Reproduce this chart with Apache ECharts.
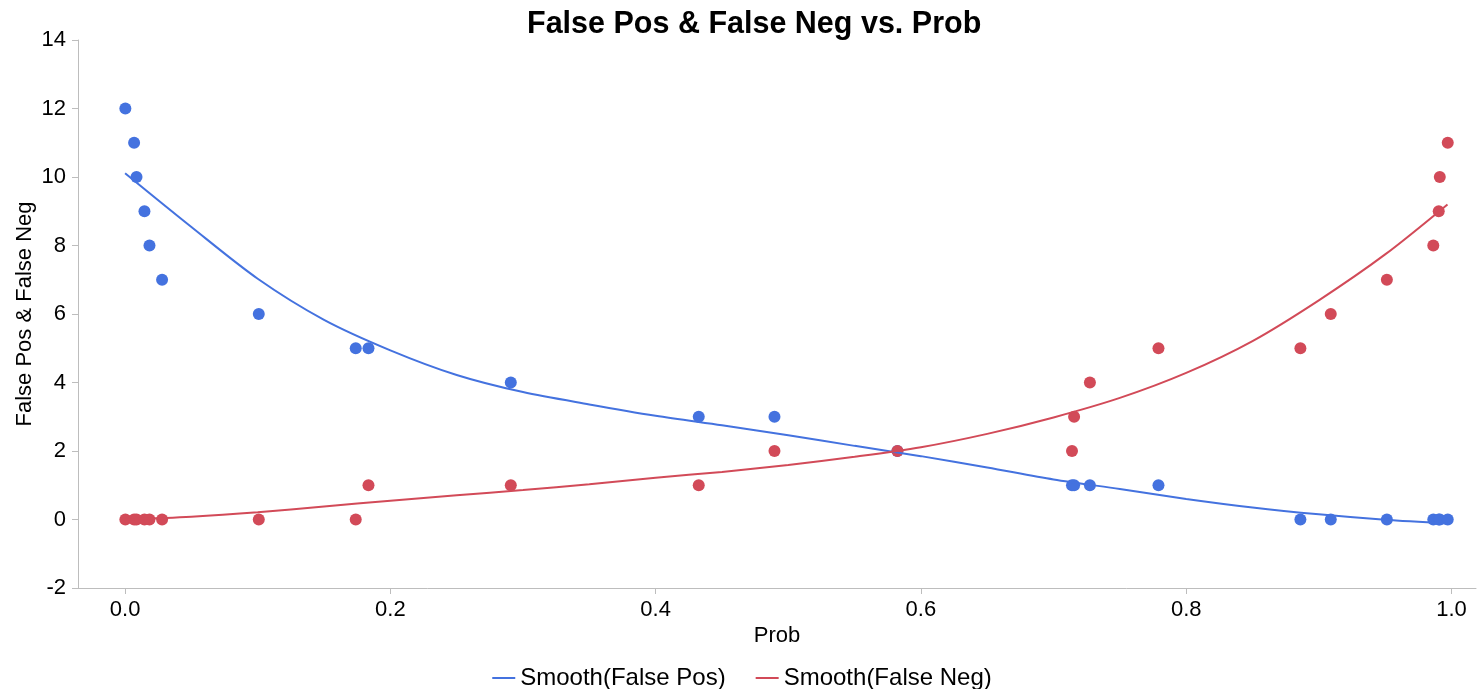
<!DOCTYPE html>
<html>
<head>
<meta charset="utf-8">
<title>False Pos & False Neg vs. Prob</title>
<script src="https://cdn.jsdelivr.net/npm/echarts@6/dist/echarts.min.js"></script>
<style>
  html, body { margin: 0; padding: 0; background: #ffffff; }
  #chart { width: 1484px; height: 689px; }
</style>
</head>
<body>
<div id="chart"></div>
<script>
// Observed thresholds and the error counts at each one
const prob = [0.0002, 0.0068, 0.0086, 0.0146, 0.0184, 0.0279, 0.1008, 0.1739, 0.1835,
              0.2908, 0.4325, 0.4896, 0.5823, 0.7139, 0.7155, 0.7274, 0.7791, 0.8861,
              0.9090, 0.9513, 0.9863, 0.9904, 0.9912, 0.9972];
const falsePos = [12, 11, 10, 9, 8, 7, 6, 5, 5, 4, 3, 3, 2, 1, 1, 1, 1, 0, 0, 0, 0, 0, 0, 0];
const falseNeg = [0, 0, 0, 0, 0, 0, 0, 0, 1, 1, 1, 2, 2, 2, 3, 4, 5, 5, 6, 7, 8, 9, 10, 11];

// Smoothed fits sampled along Prob
const smoothProb = [0.0, 0.05, 0.10, 0.15, 0.20, 0.25, 0.30, 0.35, 0.40, 0.45, 0.50,
                    0.55, 0.60, 0.65, 0.70, 0.75, 0.80, 0.85, 0.90, 0.95, 0.997];
const smoothFalsePos = [10.11, 8.54, 7.03, 5.83, 4.94, 4.22, 3.72, 3.36, 3.03, 2.75, 2.46,
                        2.15, 1.85, 1.52, 1.17, 0.89, 0.60, 0.35, 0.15, -0.01, -0.12];
const smoothFalseNeg = [0.00, 0.08, 0.21, 0.38, 0.55, 0.71, 0.86, 1.03, 1.22, 1.39, 1.59,
                        1.83, 2.11, 2.50, 2.98, 3.55, 4.28, 5.21, 6.40, 7.74, 9.20];

// Axis tick labels
const xTicks = [0, 0.2, 0.4, 0.6, 0.8, 1.0];

const BLUE = '#4472DF';
const RED = '#D24A58';
const AXIS_GREY = '#bdbdbd';
const FONT = '"Liberation Sans", Arial, Helvetica, sans-serif';

const pairs = (xs, ys) => xs.map((x, i) => [x, ys[i]]);

const chart = echarts.init(document.getElementById('chart'), null, { renderer: 'canvas' });

chart.setOption({
  animation: false,
  backgroundColor: '#ffffff',
  textStyle: { fontFamily: FONT, color: '#000' },
  title: {
    text: 'False Pos & False Neg vs. Prob',
    left: 522,
    top: 4,
    textStyle: { fontFamily: FONT, fontSize: 30.5, fontWeight: 'bold', color: '#000' }
  },
  legend: {
    data: ['Smooth(False Pos)', 'Smooth(False Neg)'],
    left: 'center',
    top: 661,
    icon: 'rect',
    itemWidth: 23,
    itemHeight: 2,
    itemGap: 30,
    textStyle: { fontFamily: FONT, fontSize: 24, color: '#000' }
  },
  grid: {
    left: 78,
    right: 8,
    top: 40,
    bottom: 101,
    outerBoundsMode: 'none',
    containLabel: false
  },
  xAxis: {
    type: 'value',
    min: -0.0355,
    max: 1.0185,
    name: 'Prob',
    nameLocation: 'middle',
    nameGap: 37,
    nameMoveOverlap: false,
    nameTextStyle: { fontFamily: FONT, fontSize: 22, color: '#000' },
    axisLine: { show: true, onZero: false, lineStyle: { color: AXIS_GREY, width: 1 } },
    axisTick: { show: true, length: 6, lineStyle: { color: AXIS_GREY }, customValues: xTicks },
    axisLabel: {
      fontFamily: FONT, fontSize: 22, color: '#000', margin: 11,
      customValues: xTicks,
      formatter: v => v.toFixed(1)
    },
    splitLine: { show: false }
  },
  yAxis: {
    type: 'value',
    min: -2,
    max: 14,
    interval: 2,
    name: 'False Pos & False Neg',
    nameLocation: 'middle',
    nameRotate: 90,
    nameGap: 42,
    nameMoveOverlap: false,
    nameTextStyle: { fontFamily: FONT, fontSize: 22, color: '#000' },
    axisLine: { show: true, onZero: false, lineStyle: { color: AXIS_GREY, width: 1 } },
    axisTick: { show: true, length: 6, lineStyle: { color: AXIS_GREY } },
    axisLabel: { fontFamily: FONT, fontSize: 22, color: '#000', margin: 12 },
    splitLine: { show: false }
  },
  series: [
    {
      name: 'False Pos',
      type: 'scatter',
      data: pairs(prob, falsePos),
      symbolSize: 12,
      itemStyle: { color: BLUE, opacity: 1 },
      z: 2
    },
    {
      name: 'False Neg',
      type: 'scatter',
      data: pairs(prob, falseNeg),
      symbolSize: 12,
      itemStyle: { color: RED, opacity: 1 },
      z: 2
    },
    {
      name: 'Smooth(False Pos)',
      type: 'line',
      data: pairs(smoothProb, smoothFalsePos),
      smooth: 0.3,
      showSymbol: false,
      lineStyle: { color: BLUE, width: 2 },
      itemStyle: { color: BLUE },
      z: 3
    },
    {
      name: 'Smooth(False Neg)',
      type: 'line',
      data: pairs(smoothProb, smoothFalseNeg),
      smooth: 0.3,
      showSymbol: false,
      lineStyle: { color: RED, width: 2 },
      itemStyle: { color: RED },
      z: 3
    }
  ]
});
</script>
</body>
</html>
